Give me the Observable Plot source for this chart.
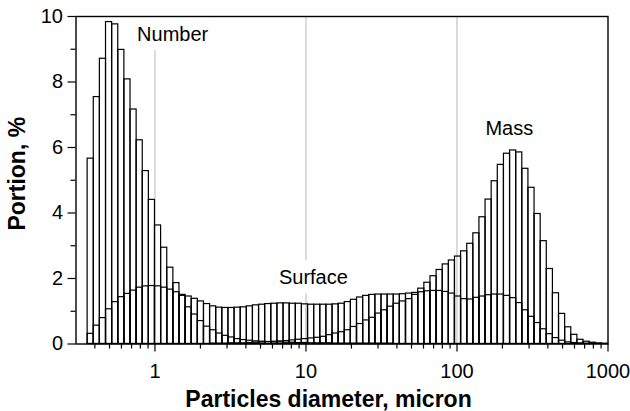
<!DOCTYPE html>
<html><head><meta charset="utf-8">
<script src="https://cdn.jsdelivr.net/npm/d3@7"></script>
<script src="https://cdn.jsdelivr.net/npm/@observablehq/plot@0.6"></script>
<style>
html,body{margin:0;padding:0;background:#fff;}
</style>
</head><body><div id="chart"></div>
<script>
// Channel (bin) edges of the size classes, micron
const binEdges = [0.3583,0.3934,0.4318,0.4741,0.5205,0.5714,0.6273,0.6887,0.7561,0.8301,
  0.9113,1.0003,1.098,1.206,1.324,1.453,1.595,1.751,1.923,2.111,
  2.317,2.544,2.793,3.066,3.366,3.696,4.057,4.454,4.890,5.368,
  5.894,6.470,7.103,7.798,8.561,9.399,10.32,11.33,12.44,13.65,
  14.99,16.46,18.07,19.83,21.77,23.90,26.24,28.81,31.63,34.72,
  38.12,41.85,45.95,50.44,55.38,60.79,66.74,73.27,80.44,88.31,
  96.95,106.4,116.9,128.3,140.8,154.6,169.7,186.3,204.6,224.6,
  246.6,270.7,297.2,326.3,358.2,393.2,431.7,473.9,520.3,571.2,
  627.1,688.4,755.8,829.8,910.9,1000.1];

const numberPct = [5.66,7.54,8.71,9.83,9.76,8.98,8.08,7.16,6.22,5.28,
  4.40,3.62,2.94,2.33,1.86,1.47,1.12,0.90,0.70,0.53,
  0.42,0.32,0.25,0.20,0.15,0.12,0.10,0.08,0.07,0.06,
  0.05,0.05,0.04,0.04,0.03,0.03,0.02,0.02,0.02,0.02,
  0.01,0.01,0.01,0.01,0.01,0.01,0.01,0.01,0.01,0.01,
  0,0,0,0,0,0,0,0,0,0,
  0,0,0,0,0,0,0,0,0,0,
  0,0,0,0,0,0,0,0,0,0,
  0,0,0,0,0];

const surfacePct = [0.31,0.56,0.79,1.06,1.28,1.43,1.53,1.63,1.72,1.76,
  1.77,1.76,1.72,1.66,1.58,1.50,1.45,1.38,1.30,1.22,
  1.15,1.11,1.10,1.10,1.11,1.12,1.15,1.18,1.20,1.22,
  1.23,1.24,1.24,1.23,1.23,1.21,1.20,1.20,1.20,1.20,
  1.21,1.23,1.28,1.35,1.42,1.47,1.50,1.51,1.51,1.51,
  1.51,1.52,1.54,1.56,1.58,1.61,1.62,1.62,1.59,1.54,
  1.45,1.37,1.36,1.41,1.45,1.49,1.51,1.51,1.47,1.40,
  1.25,1.03,0.83,0.64,0.45,0.30,0.18,0.10,0.05,0.03,
  0.02,0.01,0.01,0.00,0.00];

const massPct = [0,0,0,0,0,0,0,0,0,0,
  0,0,0,0,0,0,0,0,0,0,
  0.01,0.01,0.01,0.02,0.02,0.02,0.03,0.04,0.05,0.06,
  0.07,0.08,0.09,0.11,0.13,0.15,0.17,0.19,0.22,0.27,
  0.32,0.36,0.42,0.52,0.61,0.72,0.80,0.93,1.03,1.14,
  1.23,1.30,1.37,1.50,1.69,1.87,2.07,2.26,2.43,2.55,
  2.67,2.83,3.06,3.38,3.87,4.41,4.97,5.47,5.81,5.91,
  5.85,5.35,4.77,3.97,3.14,2.29,1.55,0.92,0.51,0.28,
  0.13,0.07,0.04,0.02,0.01];

const seriesNames = ["Number", "Surface", "Mass"];
const yMajorTicks = [0, 2, 4, 6, 8, 10];
const yMinorTicks = [1, 3, 5, 7, 9];
const xMajorTicks = [1, 10, 100, 1000];
const xMinorTicks = [0.4,0.5,0.6,0.7,0.8,0.9,2,3,4,5,6,7,8,9,20,30,40,50,60,70,80,90,200,300,400,500,600,700,800,900];
const xTitle = "Particles diameter, micron";
const yTitle = "Portion, %";

const bars = [];
[numberPct, surfacePct, massPct].forEach((arr, s) => {
  arr.forEach((v, k) => bars.push({series: seriesNames[s], x1: binEdges[k], x2: binEdges[k + 1], v}));
});

// annotation placements
const seriesLabels = [
  {name: seriesNames[0], x: 1.31, y: 9.45},
  {name: seriesNames[1], x: 11.2, y: 2.03},
  {name: seriesNames[2], x: 222, y: 6.58}
];
const gridSegments = [
  {x: 1, y1: 0, y2: 8.96},
  {x: 10, y1: 0, y2: 1.53},
  {x: 10, y1: 2.55, y2: 10},
  {x: 100, y1: 0, y2: 10}
];

const chart = Plot.plot({
  width: 630,
  height: 411,
  marginLeft: 75.5,
  marginRight: 22.5,
  marginTop: 16,
  marginBottom: 67.5,
  style: {fontFamily: "'Liberation Sans', Arial, sans-serif", fontSize: "20px", background: "white", color: "black"},
  x: {type: "log", domain: [0.3, 1000]},
  y: {domain: [0, 10]},
  marks: [
    Plot.ruleX(gridSegments, {x: "x", y1: "y1", y2: "y2", stroke: "#b8b8b8", strokeWidth: 1}),
    Plot.rect(bars, {x1: "x1", x2: "x2", y1: 0, y2: "v", fill: "none", stroke: "black", strokeWidth: 1.2}),
    Plot.axisY({ticks: yMajorTicks, tickSize: 8, tickPadding: 5, fontSize: 20, label: null, strokeWidth: 1.2}),
    Plot.axisY({ticks: yMinorTicks, tickSize: 5, tickFormat: () => "", label: null, strokeWidth: 1.2}),
    Plot.axisX({ticks: xMajorTicks, tickSize: 8, tickPadding: 12, fontSize: 20, tickFormat: d => String(d), label: null, strokeWidth: 1.2}),
    Plot.axisX({ticks: xMinorTicks, tickSize: 5, tickFormat: () => "", label: null, strokeWidth: 1.2}),
    Plot.frame({stroke: "black", strokeWidth: 1.4}),
    Plot.text(seriesLabels, {x: "x", y: "y", text: "name", fontSize: 20}),
    Plot.text([xTitle], {frameAnchor: "bottom", textAnchor: "middle", lineAnchor: "middle", dy: 55.5, dx: -13.5, fontSize: 23, fontWeight: "bold"}),
    Plot.text([yTitle], {frameAnchor: "left", textAnchor: "middle", lineAnchor: "middle", rotate: -90, dx: -58.5, dy: -6.5, fontSize: 23, fontWeight: "bold"})
  ]
});
document.getElementById("chart").appendChild(chart);
</script>
</body></html>
